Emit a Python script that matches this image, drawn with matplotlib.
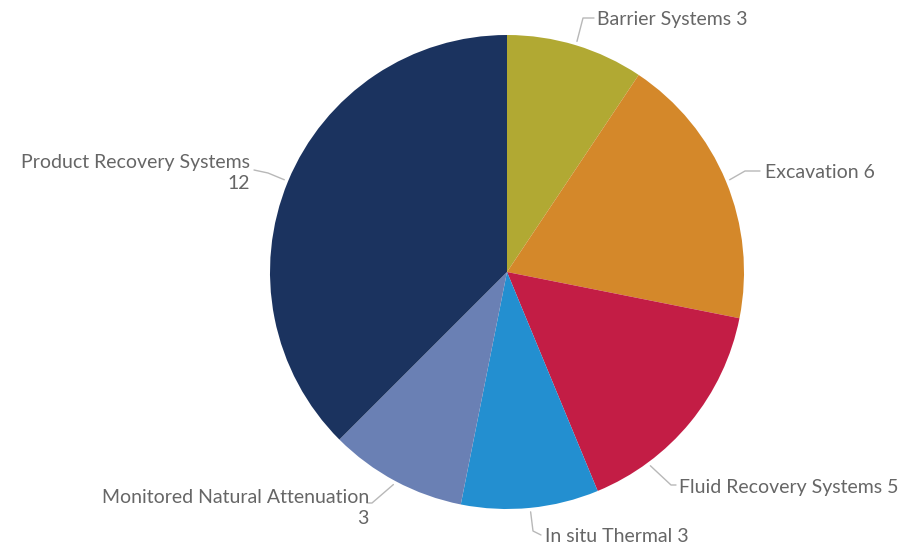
import numpy as np
import matplotlib
matplotlib.use("Agg")
import matplotlib.pyplot as plt

# Remediation technologies and number of sites using each
categories = ["Barrier Systems", "Excavation", "Fluid Recovery Systems",
              "In situ Thermal", "Monitored Natural Attenuation",
              "Product Recovery Systems"]
values = [3, 6, 5, 3, 3, 12]
colors = ["#B1A933", "#D4882A", "#C31D45", "#238FD0", "#6A80B4", "#1B335F"]

W, H = 919, 549
fig = plt.figure(figsize=(W / 100, H / 100), dpi=100)
ax = fig.add_axes([0, 0, 1, 1])
ax.axis("off")


def P(x, y):
    """Convert top-left pixel-style coordinates to axes data coordinates."""
    return x, H - y


cx, cy, R = 507, 272, 237
ccx, ccy = P(cx, cy)
wedges, _ = ax.pie(values, colors=colors, startangle=90, counterclock=False,
                   center=(ccx, ccy), radius=R, frame=False,
                   wedgeprops=dict(linewidth=0))
ax.set_xlim(0, W)
ax.set_ylim(0, H)
ax.set_aspect("equal")
ax.axis("off")

# label layout: anchor angle on rim (deg clockwise from top), elbow, text anchor
layout = [
    dict(ang=None, elbow=(583, 18), end=(594, 18), text=(597, 19), ha="left", two=False),
    dict(ang=None, elbow=(745, 171), end=(760, 171), text=(765, 172), ha="left", two=False),
    dict(ang=143.5, elbow=(671, 485), end=(676, 485), text=(679, 487), ha="left", two=False),
    dict(ang=None, elbow=(533, 531), end=(541, 535), text=(545, 537), ha="left", two=False),
    dict(ang=None, elbow=(372, 503), end=(367, 503), text=(369, 496), ha="right", two=True),
    dict(ang=None, elbow=(268, 173), end=(254, 170), text=(250, 161), ha="right", two=True),
]

total = sum(values)
cum = np.cumsum([0] + values)
gray = "#666666"
fs = 14
for i, (cat, val) in enumerate(zip(categories, values)):
    lay = layout[i]
    ang = lay["ang"] if lay["ang"] is not None else (cum[i] + val / 2) / total * 360
    a = np.deg2rad(ang)
    sx = cx + (R + 4) * np.sin(a)
    sy = cy - (R + 4) * np.cos(a)
    pts = [P(sx, sy), P(*lay["elbow"]), P(*lay["end"])]
    ax.plot([p[0] for p in pts], [p[1] for p in pts], color="#b8b8b8", lw=1.0,
            solid_capstyle="round")
    tx, ty = P(*lay["text"])
    if lay["two"]:
        ax.text(tx, ty + 7, f"{cat}\n{val}", ha="right", va="top",
                multialignment="right", fontsize=fs, family="Lato",
                color=gray, linespacing=1.28)
    else:
        ax.text(tx, ty, f"{cat} {val}", ha=lay["ha"], va="center",
                fontsize=fs, family="Lato", color=gray)

fig.savefig("out.png", dpi=100, facecolor="white")
